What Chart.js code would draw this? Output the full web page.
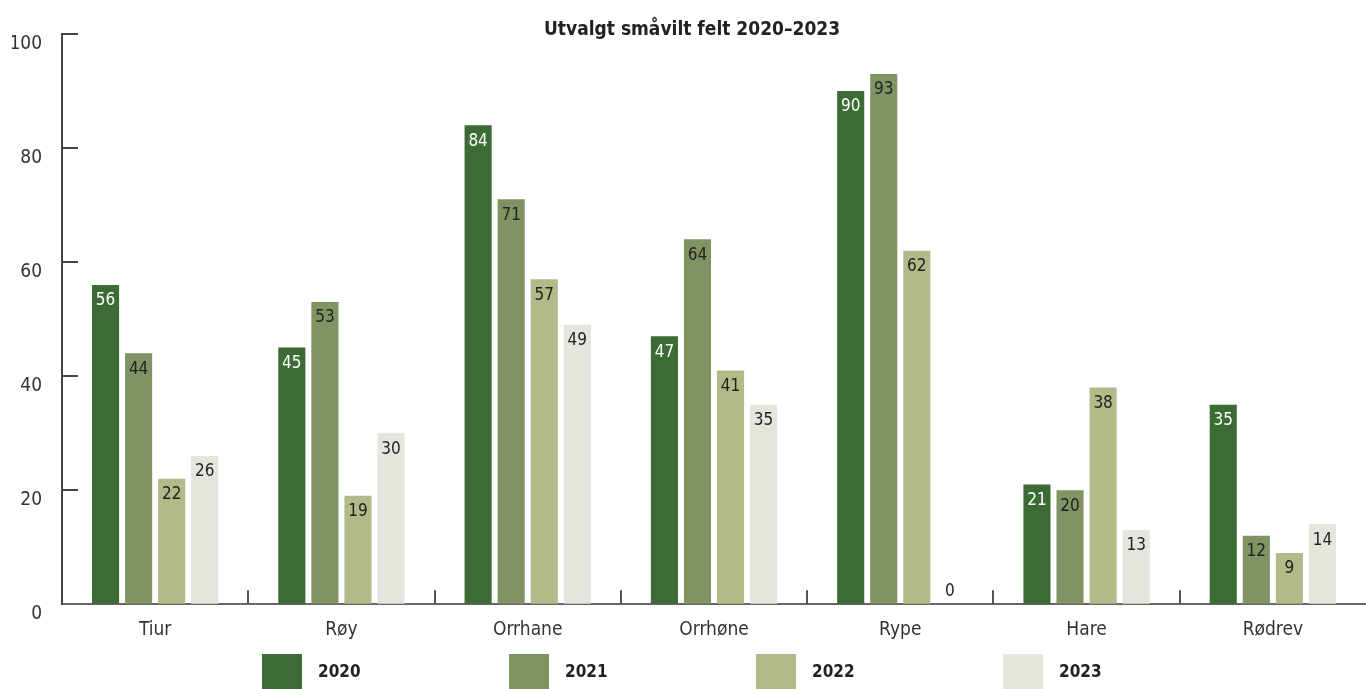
<!DOCTYPE html>
<html>
<head>
<meta charset="utf-8">
<script src="https://cdn.jsdelivr.net/npm/chart.js@4"></script>
<style>
  html, body { margin: 0; padding: 0; background: #fff; }
  #wrap { width: 1366px; height: 689px; }
</style>
</head>
<body>
<div id="wrap"><canvas id="chart"></canvas></div>
<script>
const categories = ['Tiur', 'Røy', 'Orrhane', 'Orrhøne', 'Rype', 'Hare', 'Rødrev'];
const years = ['2020', '2021', '2022', '2023'];
const felt2020 = [56, 45, 84, 47, 90, 21, 35];
const felt2021 = [44, 53, 71, 64, 93, 20, 12];
const felt2022 = [22, 19, 57, 41, 62, 38, 9];
const felt2023 = [26, 30, 49, 35, 0, 13, 14];
const yTicks = [0, 20, 40, 60, 80, 100];

const colors = ['#3d6b35', '#819263', '#b1ba88', '#e5e5dd'];
const labelColors = ['#ffffff', '#222222', '#222222', '#222222'];
const FONT = "'Liberation Sans Narrow', 'DejaVu Sans Condensed', 'Roboto', sans-serif";

const extras = {
  id: 'extras',
  afterDraw(chart) {
    const ctx = chart.ctx;
    const area = chart.chartArea;
    const x = chart.scales.x;
    const y = chart.scales.y;
    ctx.save();

    // inward y tick marks
    ctx.strokeStyle = '#444';
    ctx.lineWidth = 2;
    yTicks.forEach(v => {
      if (v === 0) return;
      const py = Math.round(y.getPixelForValue(v));
      ctx.beginPath();
      ctx.moveTo(area.left, py);
      ctx.lineTo(area.left + 16, py);
      ctx.stroke();
    });

    // category separators on the x axis
    ctx.strokeStyle = '#555';
    for (let i = 1; i < categories.length; i++) {
      const px = Math.round((x.getPixelForValue(i - 1) + x.getPixelForValue(i)) / 2);
      ctx.beginPath();
      ctx.moveTo(px, area.bottom);
      ctx.lineTo(px, area.bottom - 14);
      ctx.stroke();
    }

    // value labels
    ctx.font = '17px ' + FONT;
    ctx.textAlign = 'center';
    ctx.textBaseline = 'middle';
    chart.data.datasets.forEach((ds, di) => {
      const meta = chart.getDatasetMeta(di);
      meta.data.forEach((bar, i) => {
        const v = ds.data[i];
        if (v === 0) {
          ctx.fillStyle = '#222';
          ctx.fillText(String(v), bar.x, bar.y - 13);
        } else {
          ctx.fillStyle = labelColors[di];
          ctx.fillText(String(v), bar.x, bar.y + 16);
        }
      });
    });

    // title
    ctx.fillStyle = '#222';
    ctx.font = 'bold 19px ' + FONT;
    ctx.fillText('Utvalgt småvilt felt 2020–2023', 692, 30);

    // legend
    const step = 247;
    const startX = 262;
    ctx.textAlign = 'left';
    ctx.font = 'bold 17px ' + FONT;
    chart.data.datasets.forEach((ds, di) => {
      const lx = startX + di * step;
      ctx.fillStyle = ds.backgroundColor;
      ctx.fillRect(lx, 654, 40, 35);
      ctx.fillStyle = '#222';
      ctx.fillText(ds.label, lx + 56, 673);
    });

    ctx.restore();
  }
};

new Chart(document.getElementById('chart'), {
  type: 'bar',
  data: {
    labels: categories,
    datasets: [
      { label: years[0], data: felt2020, backgroundColor: colors[0] },
      { label: years[1], data: felt2021, backgroundColor: colors[1] },
      { label: years[2], data: felt2022, backgroundColor: colors[2] },
      { label: years[3], data: felt2023, backgroundColor: colors[3] }
    ]
  },
  options: {
    responsive: true,
    maintainAspectRatio: false,
    animation: false,
    categoryPercentage: 0.71,
    barPercentage: 0.82,
    layout: { padding: { top: 34, left: 12, right: 0, bottom: 34 } },
    plugins: {
      legend: { display: false },
      tooltip: { enabled: false }
    },
    scales: {
      x: {
        grid: { drawOnChartArea: false, drawTicks: false },
        border: { color: '#666', width: 2 },
        ticks: { color: '#333', padding: 14, font: { family: FONT, size: 19 } }
      },
      y: {
        min: 0,
        max: 100,
        afterBuildTicks: scale => { scale.ticks = yTicks.map(v => ({ value: v })); },
        afterFit: scale => { scale.width = 50; },
        grid: { drawOnChartArea: false, drawTicks: false },
        border: { color: '#444', width: 2 },
        ticks: { color: '#333', padding: 20, labelOffset: 10, font: { family: FONT, size: 19 } }
      }
    }
  },
  plugins: [extras]
});
</script>
</body>
</html>
